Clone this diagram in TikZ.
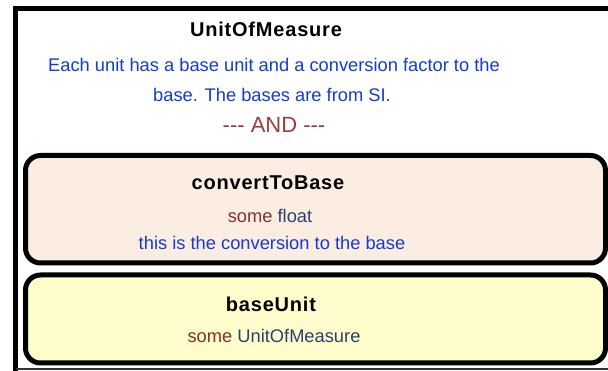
\documentclass[tikz,border=0pt]{standalone}
\usepackage{fontspec}
\setmainfont{Liberation Sans}
\newfontfamily\boldsp[LetterSpace=4]{Liberation Sans Bold}
\definecolor{descblue}{RGB}{20,60,210}
\definecolor{andred}{RGB}{160,60,55}
\definecolor{somered}{RGB}{130,50,40}
\definecolor{typenavy}{RGB}{40,65,110}
\definecolor{peach}{RGB}{252,237,227}
\definecolor{lightyellow}{RGB}{255,253,204}
\begin{document}
\begin{tikzpicture}[x=1pt,y=-1pt,
  ttl/.style={anchor=base,inner sep=0pt,font=\fontsize{20}{22}\boldsp},
  txt/.style={anchor=base,inner sep=0pt,font=\fontsize{18.3}{20}\selectfont},
  slot/.style={draw=black,line width=5pt,rounded corners=15pt}]
\useasboundingbox (0,0) rectangle (608,371);
\clip (0,0) rectangle (608,371);
\fill[white] (0,0) rectangle (608,371);
% outer frame
\draw[line width=5pt] (15.5,380) -- (15.5,9) -- (640,9);
\draw[line width=1.2pt,black!80] (15.5,369) -- (640,369);
% slots
\draw[slot,fill=peach] (25.5,155.5) rectangle (605.5,263);
\draw[slot,fill=lightyellow] (25.5,275) rectangle (605.5,363);
% texts
\node[ttl] (title) at (266,37) {UnitOfMeasure};
\node[txt,text=descblue] (d1) at (274,72) {Each unit has a base unit and a conversion factor to the};
\node[txt,text=descblue] (d2) at (272,102) {base. The bases are from SI.};
\node[anchor=base,inner sep=0pt,font=\fontsize{22}{24}\selectfont,text=andred] (and) at (274,133) {-{}-{}- AND -{}-{}-};
\node[ttl] (ctb) at (268,190) {convertToBase};
\node[txt] (ctbt) at (270,223) {\textcolor{somered}{some} \textcolor{typenavy}{float}};
\node[txt,text=descblue] (ctbd) at (272,250) {this is the conversion to the base};
\node[ttl] (bu) at (271,312) {baseUnit};
\node[txt] (but) at (274,343) {\textcolor{somered}{some} \textcolor{typenavy}{UnitOfMeasure}};
\end{tikzpicture}
\end{document}
